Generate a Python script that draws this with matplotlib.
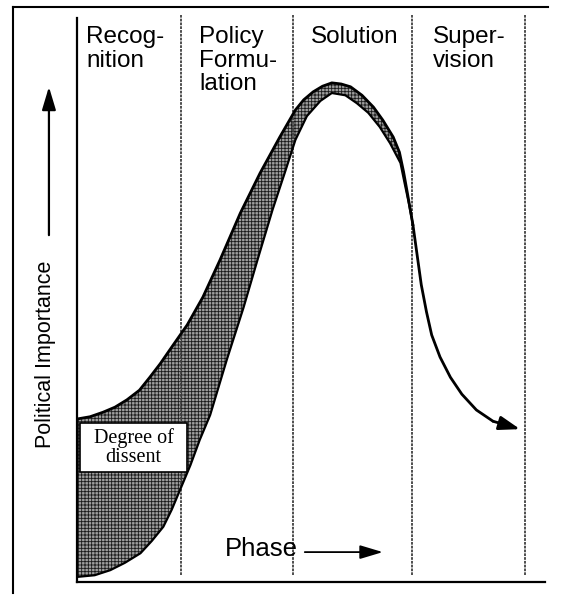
import matplotlib.pyplot as plt
from matplotlib.patches import Rectangle
from matplotlib.lines import Line2D

plt.rcParams['font.family'] = ['Liberation Sans', 'DejaVu Sans']
plt.rcParams['hatch.linewidth'] = 0.6

# phases of the policy life cycle and where each one ends (phase units)
phases = ['Recog-\nnition', 'Policy\nFormu-\nlation', 'Solution', 'Super-\nvision']
phase_ends = [1.0, 2.08, 3.22, 4.31]

# upper edge of the dissent band
upper_x = [0.0, 0.125, 0.25, 0.365, 0.48, 0.60, 0.70, 0.80, 0.89, 1.06, 1.21,
           1.375, 1.57, 1.76, 1.95, 2.10, 2.18, 2.27, 2.36, 2.45, 2.54, 2.63,
           2.74, 2.85, 2.94, 3.04, 3.10, 3.14, 3.18, 3.23]
upper_y = [2.89, 2.93, 3.01, 3.10, 3.23, 3.40, 3.63, 3.87, 4.11, 4.56, 5.05,
           5.71, 6.54, 7.25, 7.89, 8.37, 8.55, 8.69, 8.79, 8.85, 8.83, 8.78,
           8.63, 8.42, 8.19, 7.89, 7.62, 7.27, 6.86, 6.33]

# lower edge of the dissent band
lower_x = [0.0, 0.17, 0.32, 0.46, 0.61, 0.72, 0.83, 0.91, 0.99, 1.09, 1.18,
           1.28, 1.44, 1.60, 1.74, 1.88, 2.00, 2.10, 2.21, 2.34, 2.45, 2.58,
           2.69, 2.80, 2.91, 3.01, 3.11, 3.15, 3.19, 3.23]
lower_y = [0.09, 0.12, 0.21, 0.34, 0.51, 0.73, 0.98, 1.28, 1.63, 2.07, 2.52,
           2.96, 3.94, 4.86, 5.74, 6.60, 7.27, 7.84, 8.26, 8.53, 8.67, 8.63,
           8.49, 8.32, 8.07, 7.78, 7.43, 7.07, 6.72, 6.33]

# single curve after the band closes
tail_x = [3.23, 3.27, 3.31, 3.36, 3.41, 3.49, 3.59, 3.70, 3.84, 4.00, 4.26]
tail_y = [6.33, 5.80, 5.27, 4.79, 4.38, 3.99, 3.63, 3.33, 3.05, 2.85, 2.71]

fig = plt.figure(figsize=(5.63, 5.96), dpi=100)
ax = fig.add_axes([0.1368, 0.0235, 0.8313, 0.9463])
ax.set_xlim(0, 4.5)
ax.set_ylim(0, 10)
ax.set_xticks([])
ax.set_yticks([])
for s in ['top', 'right']:
    ax.spines[s].set_visible(False)
for s in ['left', 'bottom']:
    ax.spines[s].set_linewidth(1.6)

# phase separators
ax.vlines(phase_ends, 0.12, 10.05, colors='0.25', linewidth=1.3,
          linestyles=(0, (1.5, 0.6)), clip_on=False)

label_x = [0.087, 1.173, 2.25, 3.42]
for name, lx in zip(phases, label_x):
    ax.text(lx, 9.86, name, fontsize=17.5, va='top', ha='left', linespacing=1.1)

# shaded band
band_x = upper_x + lower_x[::-1]
band_y = upper_y + lower_y[::-1]
ax.fill(band_x, band_y, facecolor='0.62', edgecolor='0.1', hatch='+++++',
        linewidth=0)
ax.plot(upper_x, upper_y, color='black', lw=2.0, solid_joinstyle='round',
        solid_capstyle='round')
ax.plot(lower_x, lower_y, color='black', lw=1.6, solid_joinstyle='round')
ax.plot(tail_x[:-1], tail_y[:-1], color='black', lw=2.0,
        solid_joinstyle='round', solid_capstyle='round')
ax.annotate('', xy=(tail_x[-1], tail_y[-1]), xytext=(tail_x[-2], tail_y[-2]),
            arrowprops=dict(arrowstyle='-|>,head_length=0.9,head_width=0.3',
                            color='black', lw=2.0, mutation_scale=14,
                            shrinkA=0, shrinkB=0))

# degree of dissent box
ax.add_patch(Rectangle((0.03, 1.95), 1.03, 0.87, facecolor='white',
                       edgecolor='black', linewidth=1.2, zorder=4))
ax.text(0.545, 2.39, 'Degree of\ndissent', family=['Liberation Serif'],
        fontsize=14.5, ha='center', va='center', linespacing=1.0, zorder=5)

# axis captions
ax.text(1.42, 0.585, 'Phase', fontsize=18.5, ha='left', va='center')
ax.annotate('', xy=(2.94, 0.53), xytext=(2.19, 0.53),
            arrowprops=dict(arrowstyle='-|>,head_length=1.0,head_width=0.3',
                            color='black', lw=1.3, mutation_scale=14,
                            shrinkA=0, shrinkB=0))
ax.text(-0.305, 4.04, 'Political Importance', fontsize=15.5, rotation=90,
        ha='center', va='center', clip_on=False)
ax.annotate('', xy=(-0.27, 8.78), xytext=(-0.27, 6.15),
            arrowprops=dict(arrowstyle='-|>,head_length=1.0,head_width=0.3',
                            color='black', lw=1.6, mutation_scale=14,
                            shrinkA=0, shrinkB=0), annotation_clip=False)

# outer frame (left and top edges)
fig.add_artist(Line2D([13 / 563, 13 / 563], [1 - 593 / 596, 1 - 7 / 596],
                      color='black', lw=1.5))
fig.add_artist(Line2D([13 / 563, 548 / 563], [1 - 7 / 596, 1 - 7 / 596],
                      color='black', lw=1.5))

fig.savefig('out.png', dpi=100)
